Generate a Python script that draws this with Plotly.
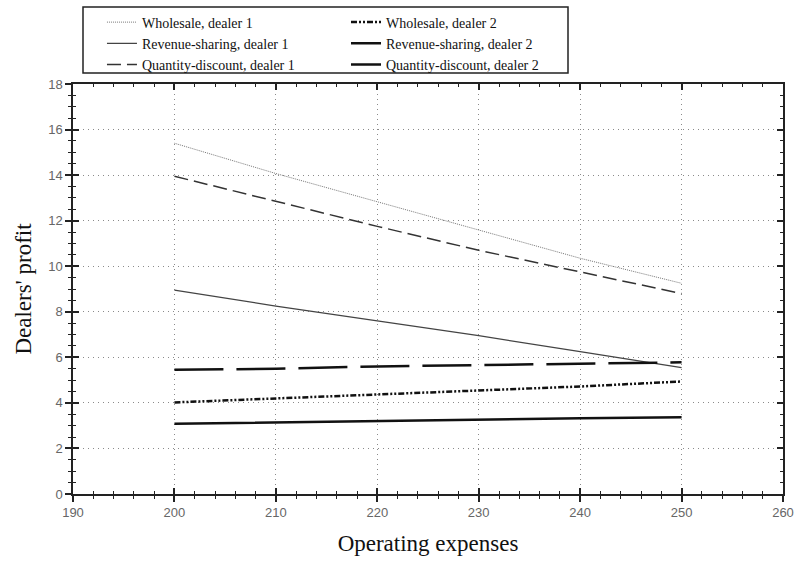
import plotly.graph_objects as go

# Data
expenses = [200, 210, 220, 230, 240, 250]
wholesale_d1 = [15.4, 14.07, 12.83, 11.6, 10.35, 9.25]
revenue_d1 = [8.95, 8.25, 7.6, 6.95, 6.25, 5.55]
quantity_d1 = [13.95, 12.85, 11.75, 10.7, 9.75, 8.8]
wholesale_d2 = [4.02, 4.19, 4.36, 4.53, 4.72, 4.94]
revenue_d2 = [3.08, 3.15, 3.22, 3.28, 3.33, 3.37]
quantity_d2 = [5.45, 5.5, 5.6, 5.65, 5.72, 5.78]

x_range = [190, 260]
y_range = [0, 18]

SERIF = "Liberation Serif"
SANS = "Liberation Sans"

fig = go.Figure()

def add(name, y, color, width, dash, legend):
    fig.add_trace(go.Scatter(
        x=expenses, y=y, name=name, mode="lines",
        line=dict(color=color, width=width, dash=dash),
        legend=legend, hoverinfo="skip"))

add("Wholesale, dealer 1", wholesale_d1, "#777777", 1, "1px,1px", "legend")
add("Revenue-sharing, dealer 1", revenue_d1, "#444444", 1.2, "solid", "legend")
add("Quantity-discount, dealer 1", quantity_d1, "#333333", 1.5, "14px,6px", "legend")
add("Wholesale, dealer 2", wholesale_d2, "#111111", 2.5, "6px,2px,2px,2px,2px,2px", "legend2")
add("Revenue-sharing, dealer 2", revenue_d2, "#111111", 2.5, "solid", "legend2")
add("Quantity-discount, dealer 2", quantity_d2, "#111111", 2.5, "49px,13px", "legend2")

# invisible trace to activate the overlay axes (inside ticks + frame)
fig.add_trace(go.Scatter(x=[x_range[0]], y=[y_range[0]], mode="markers",
                         marker=dict(opacity=0), showlegend=False,
                         hoverinfo="skip", xaxis="x2", yaxis="y2"))

grid = dict(showgrid=True, gridcolor="#8a8a8a", gridwidth=1, griddash="1px,4px")

fig.update_layout(
    width=795, height=564,
    margin=dict(l=73, r=12, t=84, b=70, autoexpand=False),
    paper_bgcolor="white", plot_bgcolor="white",
    showlegend=True,
    xaxis=dict(range=x_range, dtick=10, tick0=190, ticks="outside", ticklen=6,
               tickwidth=1.5, tickcolor="#222", showline=True, linecolor="#222",
               linewidth=1.5, zeroline=False, automargin=False,
               minor=dict(dtick=2, ticks="outside", ticklen=3, tickcolor="#222", tickwidth=1.2),
               tickfont=dict(family=SANS, size=13, color="#666"),
               title=dict(text="Operating expenses", font=dict(family=SERIF, size=23, color="#111"),
                          standoff=16),
               **grid),
    yaxis=dict(range=y_range, dtick=2, tick0=0, ticks="outside", ticklen=6,
               tickwidth=1.5, tickcolor="#222", showline=True, linecolor="#222",
               linewidth=1.5, zeroline=False, automargin=False,
               minor=dict(dtick=0.5, ticks="outside", ticklen=3, tickcolor="#222", tickwidth=1.2),
               tickfont=dict(family=SANS, size=13, color="#666"),
               title=dict(text="Dealers' profit", font=dict(family=SERIF, size=23, color="#111"),
                          standoff=10),
               **grid),
    xaxis2=dict(range=x_range, overlaying="x", anchor="y2", side="bottom", dtick=10, tick0=190,
                ticks="inside", ticklen=6, tickwidth=1.5, tickcolor="#222",
                minor=dict(dtick=2, ticks="inside", ticklen=3, tickcolor="#222", tickwidth=1.2),
                showline=True, linecolor="#222", linewidth=1.5, mirror="allticks",
                showticklabels=False, showgrid=False, zeroline=False, automargin=False),
    yaxis2=dict(range=y_range, overlaying="y", anchor="x2", side="left", dtick=2, tick0=0,
                ticks="inside", ticklen=6, tickwidth=1.5, tickcolor="#222",
                minor=dict(dtick=0.5, ticks="inside", ticklen=3, tickcolor="#222", tickwidth=1.2),
                showline=True, linecolor="#222", linewidth=1.5, mirror="allticks",
                showticklabels=False, showgrid=False, zeroline=False, automargin=False),
    legend=dict(x=0.0408, xanchor="left", y=1.189, yanchor="top", orientation="v",
                font=dict(family=SERIF, size=14, color="#111"), bgcolor="rgba(0,0,0,0)",
                borderwidth=0, tracegroupgap=0),
    legend2=dict(x=0.3845, xanchor="left", y=1.189, yanchor="top", orientation="v",
                 font=dict(family=SERIF, size=14, color="#111"), bgcolor="rgba(0,0,0,0)",
                 borderwidth=0, tracegroupgap=0),
    shapes=[dict(type="rect", xref="paper", yref="paper",
                 x0=10/710, x1=495/710, y0=421/410, y1=487/410,
                 line=dict(color="#222", width=1.5), fillcolor="rgba(0,0,0,0)")],
)

fig.write_html("out.html")
